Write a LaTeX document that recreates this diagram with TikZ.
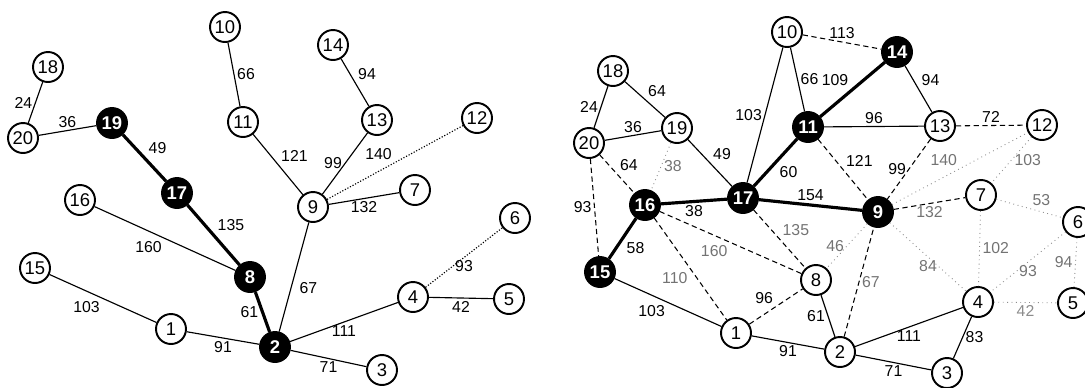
\documentclass[tikz,border=0pt]{standalone}
\usepackage{fontspec}
\setmainfont{Liberation Sans}
\begin{document}
\begin{tikzpicture}[x=0.02cm, y=-0.02cm,
        vertex/.style={circle, draw, line width=1.1pt, minimum size=0.6cm, inner sep=0pt, font=\fontsize{10.5}{12}\selectfont},
        marked/.style={vertex, fill=black, text=white, font=\fontsize{10.5}{12}\selectfont\bfseries},
        wt/.style={inner sep=1.5pt, font=\fontsize{9}{10}\selectfont},
        fwt/.style={wt, text=black!55},
        link/.style={line width=0.65pt},
        heavy/.style={line width=1.8pt},
        dotlink/.style={line width=0.65pt, densely dotted},
        broken/.style={line width=0.6pt, dash pattern=on 3pt off 2pt},
        faint/.style={line width=0.5pt, black!45, dotted}]
        \useasboundingbox (0,0) rectangle (1085,387);

        % left: the tree
        \node[vertex] (l1) at (171,329) {1};
        \node[marked] (l2) at (275,347) {2};
        \node[vertex] (l3) at (382,370) {3};
        \node[vertex] (l4) at (413,297) {4};
        \node[vertex] (l5) at (509,299) {5};
        \node[vertex] (l6) at (515,218) {6};
        \node[vertex] (l7) at (415,190) {7};
        \node[marked] (l8) at (250,277) {8};
        \node[vertex] (l9) at (313,207) {9};
        \node[vertex] (l10) at (225,27) {10};
        \node[vertex] (l11) at (243,122) {11};
        \node[vertex] (l12) at (477,118) {12};
        \node[vertex] (l13) at (377,120) {13};
        \node[vertex] (l14) at (333,45) {14};
        \node[vertex] (l15) at (35,268) {15};
        \node[vertex] (l16) at (80,200) {16};
        \node[marked] (l17) at (177,193) {17};
        \node[vertex] (l18) at (48,67) {18};
        \node[marked] (l19) at (112,123) {19};
        \node[vertex] (l20) at (23,138) {20};

        \draw[link] (l18) -- (l20) node[midway, left, wt] {24};
        \draw[link] (l20) -- (l19) node[midway, above, wt] {36};
        \draw[heavy] (l19) -- (l17) node[midway, above right, wt] {49};
        \draw[link] (l10) -- (l11) node[midway, right, wt] {66};
        \draw[link] (l11) -- (l9) node[midway, above right, wt] {121};
        \draw[link] (l14) -- (l13) node[midway, above right, wt] {94};
        \draw[link] (l13) -- (l9) node[midway, left, wt] {99};
        \draw[dotlink] (l9) -- (l12) node[midway, above left, wt] {140};
        \draw[link] (l9) -- (l7) node[midway, below, wt] {132};
        \draw[heavy] (l17) -- (l8) node[midway, above right, wt] {135};
        \draw[link] (l16) -- (l8) node[midway, below left, wt] {160};
        \draw[heavy] (l8) -- (l2) node[midway, left, wt] {61};
        \draw[link] (l15) -- (l1) node[midway, below left, wt] {103};
        \draw[link] (l1) -- (l2) node[midway, below, wt] {91};
        \draw[link] (l2) -- (l9) node[pos=0.4, right=3pt, wt] {67};
        \draw[link] (l2) -- (l4) node[midway, below, wt] {111};
        \draw[link] (l2) -- (l3) node[midway, below, wt] {71};
        \draw[link] (l4) -- (l5) node[midway, below, wt] {42};
        \draw[dotlink] (l4) -- (l6) node[midway, below, wt] {93};

        % right: the whole graph
        \node[vertex] (r1) at (736,333) {1};
        \node[vertex] (r2) at (840,352) {2};
        \node[vertex] (r3) at (947,373) {3};
        \node[vertex] (r4) at (978,302) {4};
        \node[vertex] (r5) at (1073,303) {5};
        \node[vertex] (r6) at (1078,222) {6};
        \node[vertex] (r7) at (981,195) {7};
        \node[vertex] (r8) at (816,280) {8};
        \node[marked] (r9) at (878,212) {9};
        \node[vertex] (r10) at (787,32) {10};
        \node[marked] (r11) at (808,127) {11};
        \node[vertex] (r12) at (1042,125) {12};
        \node[vertex] (r13) at (940,126) {13};
        \node[marked] (r14) at (897,52) {14};
        \node[marked] (r15) at (600,272) {15};
        \node[marked] (r16) at (645,205) {16};
        \node[marked] (r17) at (743,198) {17};
        \node[vertex] (r18) at (613,71) {18};
        \node[vertex] (r19) at (677,128) {19};
        \node[vertex] (r20) at (589,143) {20};

        \draw[link] (r18) -- (r20) node[midway, left, wt] {24};
        \draw[link] (r18) -- (r19) node[midway, above right, wt] {64};
        \draw[link] (r20) -- (r19) node[midway, above, wt] {36};
        \draw[broken] (r20) -- (r16) node[midway, above right, wt] {64};
        \draw[broken] (r20) -- (r15) node[midway, left, wt] {93};
        \draw[faint] (r19) -- (r16) node[midway, right, fwt] {38};
        \draw[link] (r19) -- (r17) node[midway, above right, wt] {49};
        \draw[link] (r10) -- (r17) node[midway, left, wt] {103};
        \draw[link] (r10) -- (r11) node[midway, right, wt] {66};
        \draw[broken] (r10) -- (r14) node[midway, above, wt] {113};
        \draw[heavy] (r11) -- (r14) node[midway, above left, wt] {109};
        \draw[link] (r14) -- (r13) node[midway, above right, wt] {94};
        \draw[link] (r11) -- (r13) node[midway, above, wt] {96};
        \draw[broken] (r13) -- (r12) node[midway, above, wt] {72};
        \draw[heavy] (r11) -- (r17) node[midway, below right, wt] {60};
        \draw[broken] (r11) -- (r9) node[midway, above right, wt] {121};
        \draw[broken] (r13) -- (r9) node[midway, left, wt] {99};
        \draw[faint] (r9) -- (r12) node[midway, above left, fwt] {140};
        \draw[faint] (r12) -- (r7) node[midway, right, fwt] {103};
        \draw[heavy] (r16) -- (r17) node[midway, below, wt] {38};
        \draw[heavy] (r17) -- (r9) node[midway, above, wt] {154};
        \draw[heavy] (r16) -- (r15) node[midway, below right, wt] {58};
        \draw[broken] (r17) -- (r8) node[midway, above right, fwt] {135};
        \draw[broken] (r16) -- (r8) node[midway, below left, fwt] {160};
        \draw[broken] (r16) -- (r1) node[midway, below left, fwt] {110};
        \draw[broken] (r1) -- (r8) node[midway, above left, wt] {96};
        \draw[link] (r15) -- (r1) node[midway, below left, wt] {103};
        \draw[link] (r1) -- (r2) node[midway, below, wt] {91};
        \draw[link] (r2) -- (r8) node[midway, left, wt] {61};
        \draw[broken] (r2) -- (r9) node[midway, right, fwt] {67};
        \draw[faint] (r9) -- (r8) node[midway, left, fwt] {46};
        \draw[faint] (r9) -- (r4) node[midway, below, fwt] {84};
        \draw[broken] (r9) -- (r7) node[midway, below, fwt] {132};
        \draw[faint] (r7) -- (r4) node[midway, right, fwt] {102};
        \draw[faint] (r7) -- (r6) node[midway, above right, fwt] {53};
        \draw[faint] (r6) -- (r4) node[midway, below, fwt] {93};
        \draw[faint] (r6) -- (r5) node[midway, left, fwt] {94};
        \draw[faint] (r4) -- (r5) node[midway, below, wt] {42};
        \draw[link] (r2) -- (r4) node[midway, below, wt] {111};
        \draw[link] (r2) -- (r3) node[midway, below, wt] {71};
        \draw[link] (r3) -- (r4) node[midway, right, wt] {83};
    \end{tikzpicture}
\end{document}
